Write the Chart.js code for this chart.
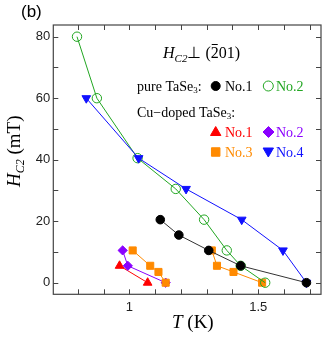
<!DOCTYPE html>
<html>
<head>
<meta charset="utf-8">
<script src="https://cdn.jsdelivr.net/npm/chart.js@4"></script>
<style>
html, body { margin: 0; padding: 0; background: #fff; }
</style>
</head>
<body>
<canvas id="chart" width="327" height="339"></canvas>
<script>
// Hc2 vs T
const pureNo1T = [1.120, 1.192, 1.308, 1.432, 1.687]
const pureNo1H = [20.5, 15.5, 10.5, 5.5, 0]
const pureNo2T = [0.797, 0.874, 1.032, 1.180, 1.290, 1.378, 1.432, 1.527]
const pureNo2H = [80, 60, 40.5, 30.5, 20.5, 10.5, 5.5, 0]
const cuNo1T = [0.962, 1.071]
const cuNo1H = [5.5, 0]
const cuNo2T = [0.974, 0.994, 1.141]
const cuNo2H = [10.5, 5.5, 0]
const cuNo3aT = [1.013, 1.081, 1.113, 1.141]
const cuNo3aH = [10.5, 5.5, 3.5, 0]
const cuNo3bT = [1.320, 1.340, 1.404, 1.515]
const cuNo3bH = [10.5, 5.5, 3.5, 0]
const cuNo4T = [0.833, 1.036, 1.220, 1.436, 1.596, 1.687]
const cuNo4H = [60, 40.5, 30.5, 20.5, 10.5, 0]

const xTicks = [0.8, 0.9, 1.0, 1.1, 1.2, 1.3, 1.4, 1.5, 1.6, 1.7]
const xLabels = [1, 1.5]
const yTicks = [0, 10, 20, 30, 40, 50, 60, 70, 80]
const yLabels = [0, 20, 40, 60, 80]

const BLACK = "#000000", GREEN = "#22a622", RED = "#ff0000"
const PURPLE = "#8a00ff", ORANGE = "#ff8a00", BLUE = "#1010ff"

function pts(t, h) {
    return t.map((v, i) => ({x: v, y: h[i]}))
}

function series(t, h, color, opts) {
    return Object.assign({
        data: pts(t, h),
        showLine: true,
        borderColor: color,
        backgroundColor: color,
        borderWidth: 1,
        pointBorderColor: color,
        pointBackgroundColor: color,
        pointBorderWidth: 1,
        pointRadius: 4.5
    }, opts)
}

function drawRuns(ctx, x, y, runs) {
    runs.forEach(r => {
        ctx.font = r.font
        ctx.fillStyle = r.color || "#000"
        ctx.fillText(r.text, x, y + (r.dy || 0))
        let w = ctx.measureText(r.text).width
        if (r.overline) {
            ctx.strokeStyle = r.color || "#000"
            ctx.lineWidth = 1
            ctx.beginPath()
            ctx.moveTo(x + 1, y - 13.5)
            ctx.lineTo(x + w - 1, y - 13.5)
            ctx.stroke()
        }
        x += w + (r.gap || 0)
    })
    return x
}

function marker(ctx, style, x, y, color, fill, radius, rotation) {
    ctx.save()
    ctx.strokeStyle = color
    ctx.fillStyle = fill
    ctx.lineWidth = 1
    Chart.helpers.drawPoint(ctx, {pointStyle: style, radius: radius, rotation: rotation || 0, borderWidth: 1}, x, y)
    ctx.restore()
}

const serif = "'Liberation Serif', 'Times New Roman', serif"

const framePlugin = {
    id: "frame",
    afterDraw(chart) {
        const ctx = chart.ctx
        const a = chart.chartArea
        const xs = chart.scales.x, ys = chart.scales.y
        ctx.save()
        ctx.strokeStyle = "#444"
        ctx.lineWidth = 1.2
        ctx.strokeRect(a.left, a.top, a.right - a.left, a.bottom - a.top)
        ctx.lineWidth = 1
        ctx.beginPath()
        xTicks.forEach(v => {
            let px = Math.round(xs.getPixelForValue(v)) + 0.5
            ctx.moveTo(px, a.bottom); ctx.lineTo(px, a.bottom - 5)
            ctx.moveTo(px, a.top); ctx.lineTo(px, a.top + 5)
        })
        yTicks.forEach(v => {
            let py = Math.round(ys.getPixelForValue(v)) + 0.5
            ctx.moveTo(a.left, py); ctx.lineTo(a.left + 5, py)
            ctx.moveTo(a.right, py); ctx.lineTo(a.right - 5, py)
        })
        ctx.stroke()

        // panel label
        ctx.fillStyle = "#000"
        ctx.font = "17px 'Liberation Sans', Arial, sans-serif"
        ctx.fillText("(b)", 21, 17)

        // axis titles
        drawRuns(ctx, 172, 328, [
            {text: "T", font: "italic 19px " + serif},
            {text: " (K)", font: "19px " + serif}
        ])
        ctx.save()
        ctx.translate(19.5, 187)
        ctx.rotate(-Math.PI / 2)
        drawRuns(ctx, 0, 0, [
            {text: "H", font: "italic 19px " + serif},
            {text: "C2", font: "italic 12px " + serif, dy: 4},
            {text: " (mT)", font: "19px " + serif}
        ])
        ctx.restore()

        // annotation
        drawRuns(ctx, 163, 58, [
            {text: "H", font: "italic 16px " + serif},
            {text: "C2", font: "italic 11px " + serif, dy: 4},
            {text: "\u22a5", font: "16px " + serif},
            {text: " (", font: "16px " + serif},
            {text: "2", font: "16px " + serif, overline: true},
            {text: "01)", font: "16px " + serif}
        ])
        drawRuns(ctx, 137, 91, [
            {text: "pure TaSe", font: "14px " + serif},
            {text: "3", font: "9px " + serif, dy: 2},
            {text: ":", font: "14px " + serif}
        ])
        marker(ctx, "circle", 215.7, 86, BLACK, BLACK, 4.5)
        drawRuns(ctx, 225, 91, [{text: "No.1", font: "14px " + serif}])
        marker(ctx, "circle", 268.3, 86, GREEN, "rgba(0,0,0,0)", 5)
        drawRuns(ctx, 276, 91, [{text: "No.2", font: "14px " + serif, color: GREEN}])

        drawRuns(ctx, 137, 117, [
            {text: "Cu\u2212doped TaSe", font: "14px " + serif},
            {text: "3", font: "9px " + serif, dy: 2},
            {text: ":", font: "14px " + serif}
        ])
        marker(ctx, "triangle", 215.7, 132.5, RED, RED, 6)
        drawRuns(ctx, 225, 137, [{text: "No.1", font: "14px " + serif, color: RED}])
        marker(ctx, "rectRot", 268.5, 132, PURPLE, PURPLE, 5.5)
        drawRuns(ctx, 276, 137, [{text: "No.2", font: "14px " + serif, color: PURPLE}])
        marker(ctx, "rect", 215.7, 152, ORANGE, ORANGE, 6)
        drawRuns(ctx, 225, 157, [{text: "No.3", font: "14px " + serif, color: ORANGE}])
        marker(ctx, "triangle", 268.3, 151, BLUE, BLUE, 6, 180)
        drawRuns(ctx, 276, 157, [{text: "No.4", font: "14px " + serif, color: BLUE}])
        ctx.restore()
    }
}

const tickFont = {family: "'Liberation Sans', Arial, sans-serif", size: 13}

new Chart(document.querySelector("#chart"), {
    type: "scatter",
    data: {
        datasets: [
            series(pureNo1T, pureNo1H, BLACK, {order: 0, borderColor: "#333", pointRadius: 4.3}),
            series(cuNo4T, cuNo4H, BLUE, {order: 1, pointStyle: "triangle", pointRotation: 180, pointRadius: 5}),
            series(pureNo2T, pureNo2H, GREEN, {order: 2, pointBackgroundColor: "rgba(0,0,0,0)", pointRadius: 4.7}),
            series(cuNo3aT, cuNo3aH, ORANGE, {order: 3, pointStyle: "rect", pointRadius: 5}),
            series(cuNo3bT, cuNo3bH, ORANGE, {order: 3, pointStyle: "rect", pointRadius: 5}),
            series(cuNo2T, cuNo2H, PURPLE, {order: 4, pointStyle: "rectRot", pointRadius: 4.6}),
            series(cuNo1T, cuNo1H, RED, {order: 5, pointStyle: "triangle", pointRadius: 5})
        ]
    },
    options: {
        responsive: false,
        animation: false,
        layout: {padding: {top: 25, right: 3.7, left: 0, bottom: 0}},
        plugins: {legend: {display: false}, tooltip: {enabled: false}},
        scales: {
            x: {
                type: "linear",
                min: 0.705,
                max: 1.7435,
                afterBuildTicks: s => { s.ticks = xTicks.map(v => ({value: v})) },
                afterFit: s => { s.height = 44.7 },
                grid: {display: false, drawTicks: false},
                border: {display: false},
                ticks: {
                    autoSkip: false,
                    maxRotation: 0,
                    padding: 5,
                    color: "#222",
                    font: tickFont,
                    callback: v => xLabels.some(l => Math.abs(l - v) < 1e-6) ? String(v) : ""
                }
            },
            y: {
                type: "linear",
                min: -3.77,
                max: 83.8,
                afterBuildTicks: s => { s.ticks = yTicks.map(v => ({value: v})) },
                afterFit: s => { s.width = 53.3 },
                grid: {display: false, drawTicks: false},
                border: {display: false},
                ticks: {
                    autoSkip: false,
                    padding: 3,
                    color: "#222",
                    font: tickFont,
                    callback: v => yLabels.includes(v) ? String(v) : ""
                }
            }
        }
    },
    plugins: [framePlugin]
})
</script>
</body>
</html>
